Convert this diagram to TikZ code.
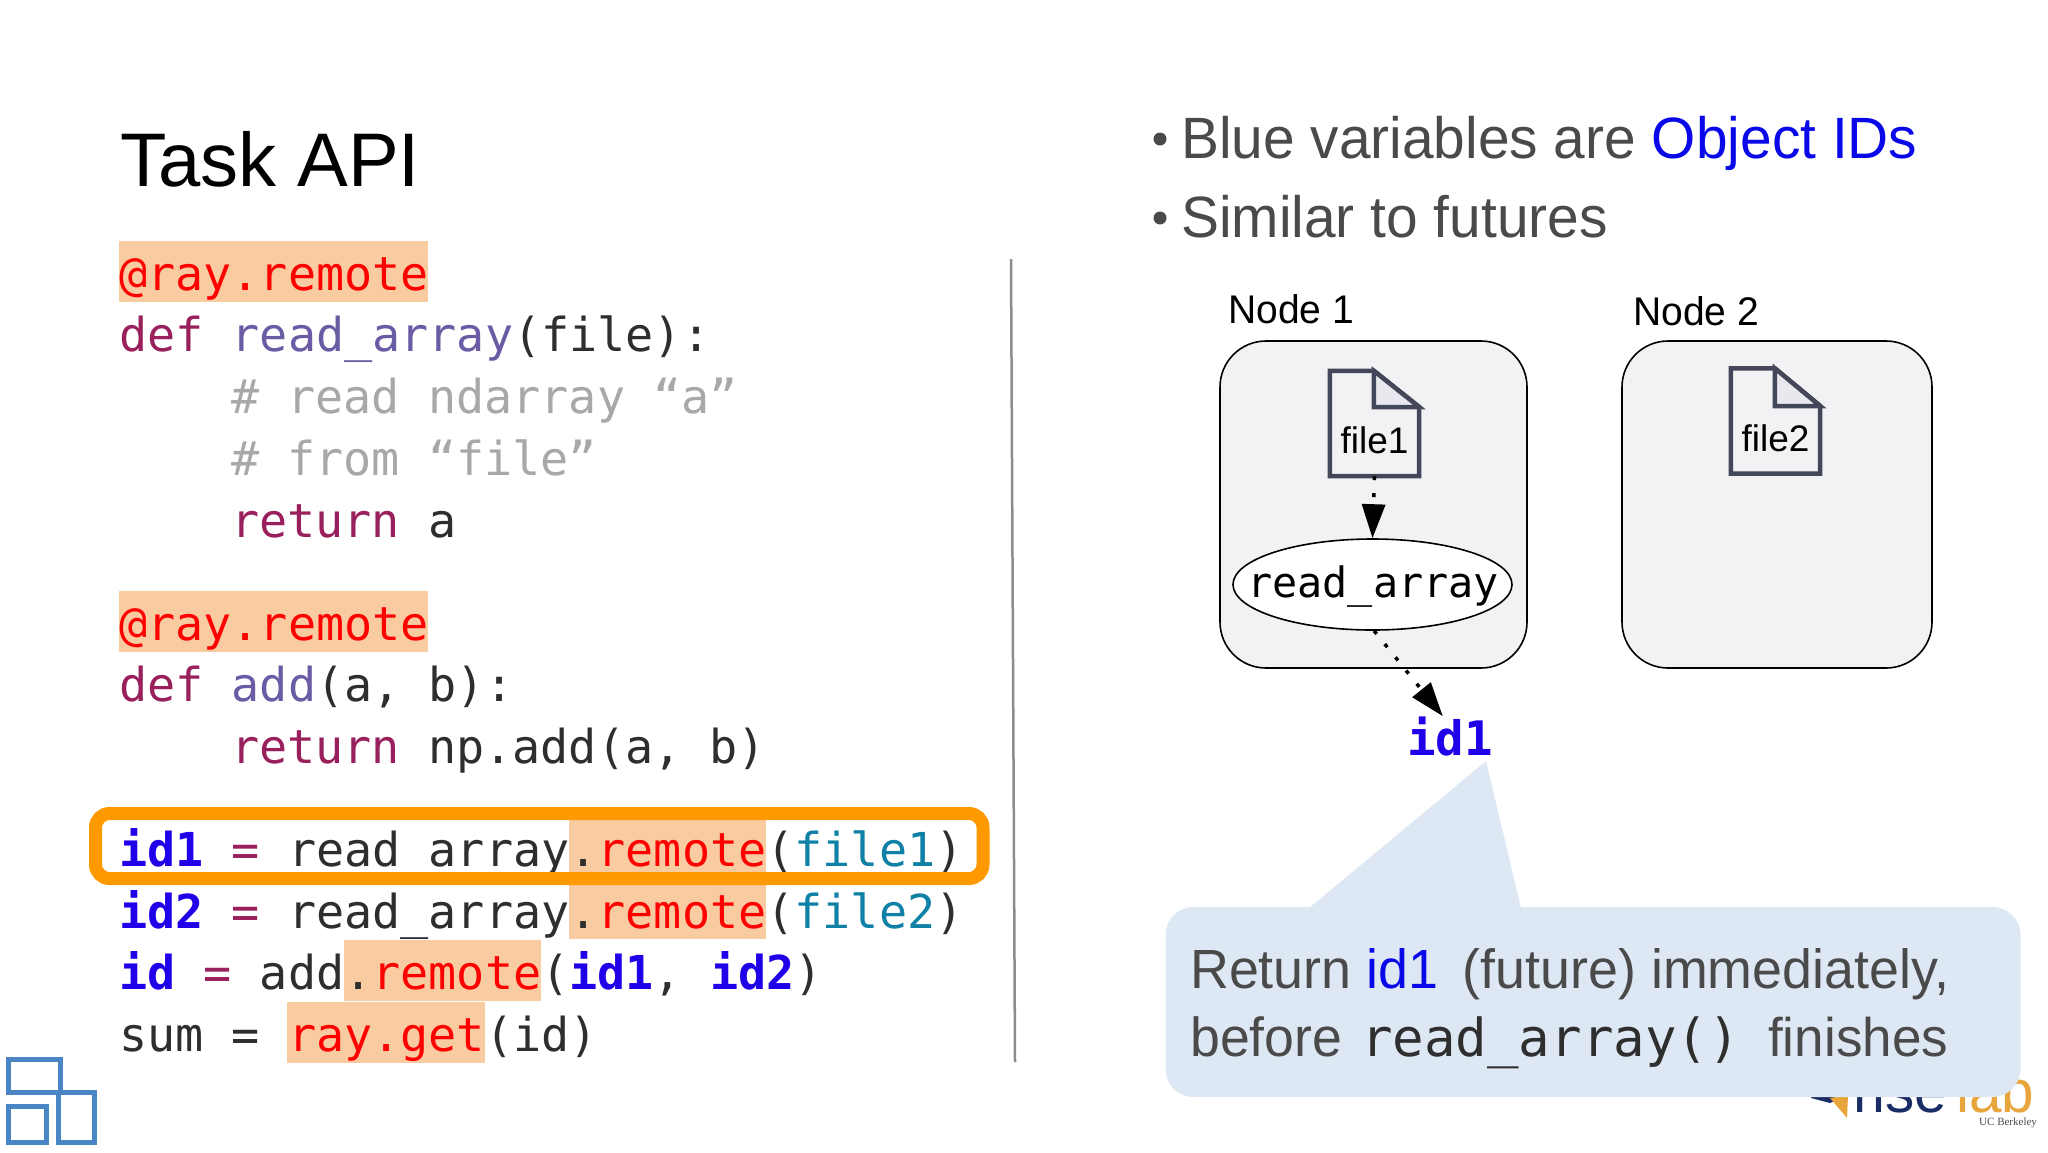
\documentclass[tikz,border=0pt]{standalone}
\usepackage{fontspec}
\setmainfont{Liberation Sans}
\newfontfamily\codefont{DejaVu Sans Mono}
\newfontfamily\thinfont{Liberation Sans}[FakeStretch=0.975]
\newfontfamily\ucbfont{Liberation Serif}
\usetikzlibrary{calc,arrows.meta,shapes.geometric}

\definecolor{hilite}{HTML}{F8CBA0}
\definecolor{kwcol}{HTML}{99205C}
\definecolor{fncol}{HTML}{6B5BA5}
\definecolor{cmcol}{HTML}{A8A8A8}
\definecolor{txcol}{HTML}{2E2E2E}
\definecolor{argcol}{HTML}{0F80A6}
\definecolor{idcol}{HTML}{1F00E8}
\definecolor{bubcol}{HTML}{DEE8F4}
\definecolor{nodecol}{HTML}{F2F2F5}
\definecolor{doccol}{HTML}{44475A}
\definecolor{foldcol}{HTML}{E8E8EE}
\definecolor{rimcol}{HTML}{FF9900}
\definecolor{logoblue}{HTML}{4A86C5}
\definecolor{greytext}{HTML}{4A4A4A}
\definecolor{objblue}{HTML}{0808E8}
\definecolor{logonavy}{HTML}{1A2C66}
\definecolor{logogold}{HTML}{E8A53C}

\newcommand{\kw}[1]{\textcolor{kwcol}{#1}}
\newcommand{\fn}[1]{\textcolor{fncol}{#1}}
\newcommand{\cm}[1]{\textcolor{cmcol}{#1}}
\newcommand{\rd}[1]{\textcolor{red}{#1}}
\newcommand{\ar}[1]{\textcolor{argcol}{#1}}
\newcommand{\idv}[1]{\textcolor{idcol}{\bfseries #1}}
\newcommand{\fsz}[1]{\fontsize{#1}{#1}\selectfont}

\begin{document}
\begin{tikzpicture}
	[   x=1pt,y=1pt,
		codeline/.style={anchor=base west,inner sep=0pt,text=txcol,font=\codefont\fsz{46.75}},
		saytext/.style={anchor=base west,inner sep=0pt,text=greytext,font=\thinfont\fsz{#1}},
		hibox/.style={fill=hilite},
		boxnode/.style={draw=black,fill=nodecol,line width=1.6pt,rounded corners=46pt,inner sep=0pt,minimum width=#1,minimum height=327pt},
		docnode/.style={inner sep=0pt,minimum width=89pt,minimum height=105pt},
		docline/.style={draw=doccol,line width=4.5pt,line join=miter},
		flowarrow/.style={line width=3.5pt,dash pattern=on 4pt off 13pt,-{Triangle[length=34pt,width=23pt]}},
		tile/.style={draw=logoblue,line width=5pt},
	]
	\useasboundingbox (0,0) rectangle (2048,-1152);
	\fill[white] (0,0) rectangle (2048,-1152);
	
	\node[anchor=base west,inner sep=0pt,text=black,font=\fsz{76}] (title) at (120,-186) {Task API};
	
	% orange marks behind the code
	\fill[hibox] (119,-241) rectangle (428,-302);
	\fill[hibox] (119,-591) rectangle (428,-652);
	\fill[hibox] (569,-820) rectangle (766,-939);
	\fill[hibox] (344,-940) rectangle (541,-1001);
	\fill[hibox] (287,-1002) rectangle (485,-1063);
	
	\foreach \y/\x/\src in {
		290/119/{\rd{@ray.remote}},
		351/119/{\kw{def} \fn{read\_array}(file):},
		413/231/{\cm{\# read ndarray “a”}},
		475/231/{\cm{\# from “file”}},
		537/231/{\kw{return} a},
		640/119/{\rd{@ray.remote}},
		701/119/{\kw{def} \fn{add}(a, b):},
		763/231/{\kw{return} np.add(a, b)},
		866/119/{\idv{id1} \kw{=} read\_array.\rd{remote}(\ar{file1})},
		928/119/{\idv{id2} \kw{=} read\_array.\rd{remote}(\ar{file2})},
		989/119/{\idv{id} \kw{=} add.\rd{remote}(\idv{id1}, \idv{id2})},
		1051/119/{sum = \rd{ray.get}(id)}}
	{
		\node[codeline] (code-\y) at (\x,-\y) {\src};
	}
	
	\draw[rimcol,line width=13pt,rounded corners=14pt] (95.5,-813.5) rectangle (983,-878.5);
	
	\draw[gray!90,line width=2.5pt] (1011,-259) -- (1015,-1062);
	
	% the two boxes on the right
	\node[boxnode=307pt] (node-1) at (1373.5,-504.5) {};
	\node[boxnode=310pt] (node-2) at (1777,-504.5) {};
	\node[saytext=40,text=black] (lab-1) at (1228,-323) {Node 1};
	\node[saytext=40,text=black] (lab-2) at (1633,-325) {Node 2};
	
	\foreach \n/\x/\y/\f/\b in {1/1374.5/423.5/407/453,2/1775.5/421/406/451.5}
	{
		\node[docnode] (file-\n) at (\x,-\y) {};
		\draw[docline] (file-\n.south west) -- (file-\n.north west) -- ($(file-\n.north west)+(44,0)$) -- (file-\n.east |- 0,-\f) -- (file-\n.south east) -- cycle;
		\draw[docline,fill=foldcol] ($(file-\n.north west)+(44,0)$) |- (file-\n.east |- 0,-\f) -- cycle;
		\node[anchor=base,inner sep=0pt,text=black,font=\fsz{37}] (name-\n) at (\x,-\b) {file\n};
	}
	
	\node[ellipse,draw=black,fill=white,line width=1.6pt,inner sep=0pt,minimum width=279pt,minimum height=91pt] (ra) at (1372.5,-584.5) {};
	\node[anchor=base,inner sep=0pt,text=black,font=\codefont\fsz{41.8}] (ra-name) at (1373,-597) {read\_array};
	\node[anchor=base,inner sep=0pt,text=idcol,font=\codefont\bfseries\fsz{47.5}] (id1) at (1450,-755) {id1};
	
	\draw[flowarrow] (file-1.south) -- (ra.north);
	\draw[flowarrow] (ra.-88) -- (id1.110);
	
	% logo sits under the bubble
	\fill[logonavy] (1811,-1098) -- (1830,-1103) -- (1846,-1095) -- (1811,-1095) -- cycle;
	\fill[logogold] (1830,-1098) -- (1848,-1095) -- (1847,-1118) -- cycle;
	\node[saytext=60,text=logonavy] (rise) at (1853,-1112) {rise};
	\node[saytext=60,text=logogold] (lab) at (1956,-1112) {lab};
	\node[anchor=base west,inner sep=0pt,text=black!70,font=\ucbfont\fsz{11}] (ucb) at (1979,-1125) {UC Berkeley};
	
	\node[fill=bubcol,rounded corners=28pt,inner sep=0pt,minimum width=855pt,minimum height=190pt] (bubble) at (1593,-1002) {};
	\coordinate (tail) at (1486,-761);
	\fill[bubcol] (1309,-908) -- (tail) -- (1521,-908) -- cycle;
	
	\node[saytext=55.2] (say-1) at (1190,-988) {Return \textcolor{objblue}{id1} \,(future) immediately,};
	\node[saytext=55] (say-2) at (1190,-1056) {before};
	\node[codeline,font=\codefont\fsz{52.4}] (say-3) at (1361,-1056) {read\_array()};
	\node[saytext=54.4] (say-4) at (1768,-1056) {finishes};
	
	\fill[greytext] (1160,-139) circle (6.5);
	\fill[greytext] (1160,-218) circle (6.5);
	\node[saytext=58.3] (bul-1) at (1181,-158) {Blue variables are \textcolor{objblue}{Object IDs}};
	\node[saytext=58.3] (bul-2) at (1181,-237) {Similar to futures};
	
	% squares in the corner
	\draw[tile] (8,-1059) rectangle (60,-1092);
	\draw[tile] (58,-1092) rectangle (94,-1142);
	\draw[tile] (8,-1106) rectangle (46,-1142);
\end{tikzpicture}
\end{document}
